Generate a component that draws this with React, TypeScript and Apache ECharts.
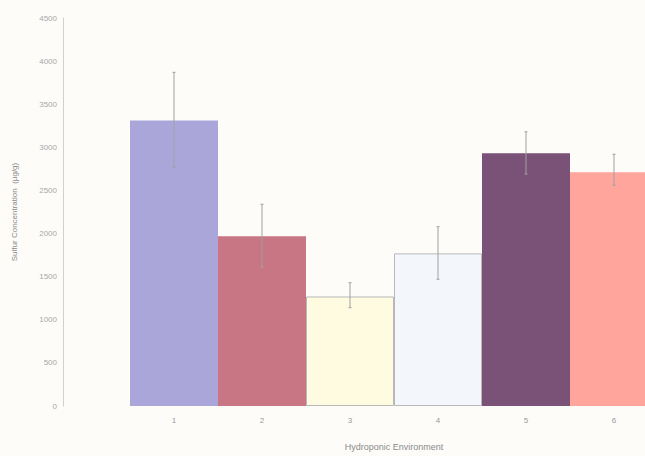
import React, { useEffect, useRef } from "react";
import * as echarts from "echarts";

const categories = ["1", "2", "3", "4", "5", "6"];
const values = [3310, 1970, 1270, 1770, 2930, 2710];
const errLow = [2770, 1610, 1140, 1470, 2690, 2560];
const errHigh = [3870, 2340, 1430, 2080, 3180, 2920];
const barColors = ["#aaa6da", "#c87584", "#fffbe0", "#f3f7fb", "#7a5277", "#ffa59c"];
const yTicks = [0, 500, 1000, 1500, 2000, 2500, 3000, 3500, 4000, 4500];

export default function App() {
  const ref = useRef<HTMLDivElement>(null);
  useEffect(() => {
    if (!ref.current) return;
    const chart = echarts.init(ref.current, undefined, { renderer: "svg" });
    const barData = values.map((v, i) => ({
      value: v,
      itemStyle: {
        color: barColors[i],
        borderColor: i === 2 || i === 3 ? "#b8b8b8" : barColors[i],
        borderWidth: i === 2 || i === 3 ? 1 : 0,
      },
    }));
    const errData = categories.map((c, i) => [i, errLow[i], errHigh[i]]);
    chart.setOption({
      animation: false,
      backgroundColor: "#fdfcf9",
      grid: { left: 130, right: 2, top: 18, bottom: 48 },
      xAxis: {
        type: "category",
        data: categories,
        name: "Hydroponic Environment",
        nameLocation: "middle",
        nameGap: 36,
        nameTextStyle: { fontSize: 9, color: "#8a8a8a", fontFamily: "Liberation Sans" },
        axisLine: { show: false },
        axisTick: { show: false },
        axisLabel: { fontSize: 8, color: "#9a9a9a", margin: 10, fontFamily: "Liberation Sans" },
      },
      yAxis: {
        type: "value",
        min: yTicks[0],
        max: yTicks[yTicks.length - 1],
        interval: 500,
        offset: 67,
        name: "Sulfur Concentration  (µg/g)",
        nameLocation: "middle",
        nameGap: 45,
        nameTextStyle: { fontSize: 8, color: "#8a8a8a", fontFamily: "Liberation Sans" },
        axisLine: { show: true, lineStyle: { color: "#d0d0d0", width: 1 } },
        axisTick: { show: false },
        splitLine: { show: false },
        axisLabel: {
          fontSize: 8,
          color: "#a8a8a8",
          margin: 6,
          fontFamily: "Liberation Sans",
          formatter: (v: number) => String(v),
        },
      },
      series: [
        {
          type: "bar",
          data: barData,
          barCategoryGap: "0%",
        },
        {
          type: "custom",
          data: errData,
          encode: { x: 0, y: [1, 2] },
          z: 10,
          renderItem: (params: any, api: any) => {
            const x = api.value(0);
            const lo = api.coord([x, api.value(1)]);
            const hi = api.coord([x, api.value(2)]);
            return {
              type: "group",
              children: [
                {
                  type: "line",
                  shape: { x1: lo[0], y1: lo[1], x2: hi[0], y2: hi[1] },
                  style: { stroke: "#a0a0a0", lineWidth: 1 },
                },
                {
                  type: "line",
                  shape: { x1: hi[0] - 1.5, y1: hi[1], x2: hi[0] + 1.5, y2: hi[1] },
                  style: { stroke: "#a0a0a0", lineWidth: 1 },
                },
                {
                  type: "line",
                  shape: { x1: lo[0] - 1.5, y1: lo[1], x2: lo[0] + 1.5, y2: lo[1] },
                  style: { stroke: "#a0a0a0", lineWidth: 1 },
                },
              ],
            };
          },
        },
      ],
    });
    return () => chart.dispose();
  }, []);
  return (
    <div style={{ position: "fixed", left: 0, top: 0, width: 645, height: 456, overflow: "hidden" }}>
      <div ref={ref} style={{ width: 660, height: 456 }} />
    </div>
  );
}
